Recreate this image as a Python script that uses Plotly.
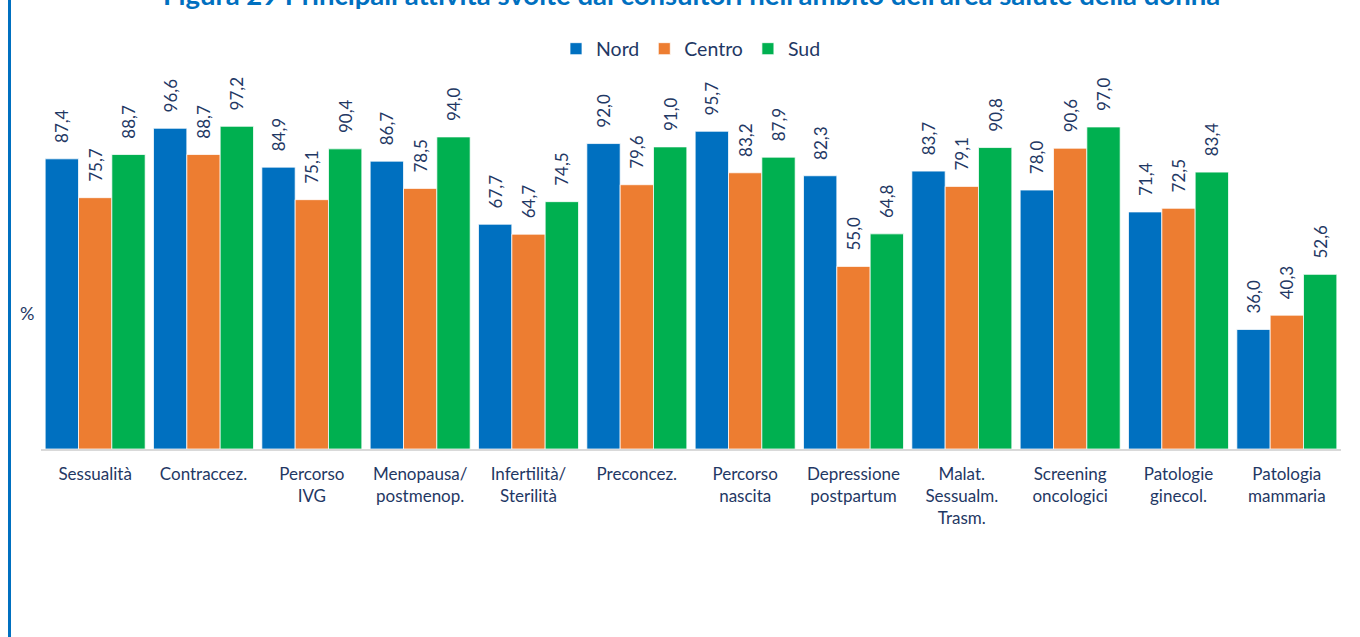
import plotly.graph_objects as go

categories = ["Sessualità", "Contraccez.", "Percorso<br>IVG", "Menopausa/<br>postmenop.",
              "Infertilità/<br>Sterilità", "Preconcez.", "Percorso<br>nascita",
              "Depressione<br>postpartum", "Malat.<br>Sessualm.<br>Trasm.",
              "Screening<br>oncologici", "Patologie<br>ginecol.", "Patologia<br>mammaria"]
nord = [87.4, 96.6, 84.9, 86.7, 67.7, 92.0, 95.7, 82.3, 83.7, 78.0, 71.4, 36.0]
centro = [75.7, 88.7, 75.1, 78.5, 64.7, 79.6, 83.2, 55.0, 79.1, 90.6, 72.5, 40.3]
sud = [88.7, 97.2, 90.4, 94.0, 74.5, 91.0, 87.9, 64.8, 90.8, 97.0, 83.4, 52.6]
series_names = ["Nord", "Centro", "Sud"]
colors = ["#0070C0", "#ED7D31", "#00B050"]
title_text = "Figura 29 Principali attività svolte dai consultori nell'ambito dell'area salute della donna"

FONT = "Lato"
NAVY = "#1F3864"

W, H = 1360, 637
L, R, T, B = 41, 19, 117, 188
PH = H - T - B

def py(px):
    return 1 + (T - px) / PH

def px_x(px):
    return (px - L) / (W - L - R)

fig = go.Figure()
for name, vals, col in zip(series_names, [nord, centro, sud], colors):
    fig.add_trace(go.Bar(
        x=categories, y=vals, name=name,
        marker=dict(color=col, line=dict(color="rgba(255,255,255,0.75)", width=1)),
        texttemplate="\u2002\u00a0%{y:.1f}", textposition="outside", textangle=-90,
        textfont=dict(family=FONT, size=17, color=NAVY),
        constraintext="none", cliponaxis=False, hoverinfo="skip",
    ))

fig.update_layout(
    width=W, height=H,
    margin=dict(l=L, r=R, t=T, b=B, pad=0),
    paper_bgcolor="white", plot_bgcolor="white",
    barmode="group", bargap=0.077, bargroupgap=0,
    separators=",.",
    font=dict(family=FONT, color=NAVY),
    showlegend=True,
    legend=dict(orientation="h", x=0.5, xanchor="center", y=py(49), yanchor="middle",
                font=dict(family=FONT, size=19.5, color=NAVY), itemwidth=30,
                bgcolor="rgba(0,0,0,0)", traceorder="normal"),
    xaxis=dict(showline=True, linecolor="#D9D9D9", linewidth=1.5, ticks="",
               tickfont=dict(family=FONT, size=17, color=NAVY), showgrid=False,
               zeroline=False, ticklabelstandoff=9),
    yaxis=dict(range=[0, 100], showline=False, showgrid=False, zeroline=False,
               showticklabels=False, ticks=""),
    annotations=[
        dict(text="<b>" + title_text + "</b>", xref="paper", yref="paper",
             x=0.5, y=py(-6), xanchor="center", yanchor="middle", showarrow=False,
             font=dict(family=FONT, size=27.5, color="#0070C0")),
        dict(text="%", xref="paper", yref="paper", x=px_x(27), y=py(313),
             xanchor="center", yanchor="middle", showarrow=False,
             font=dict(family=FONT, size=18, color=NAVY)),
    ],
    shapes=[
        dict(type="line", xref="paper", yref="paper", x0=px_x(9.5), x1=px_x(9.5),
             y0=py(H + 5), y1=py(-5), line=dict(color="#0070C0", width=3)),
    ],
)

fig.write_html("out.html", config={"displayModeBar": False},
               post_script="document.body.style.margin='0';document.body.style.padding='0';")
